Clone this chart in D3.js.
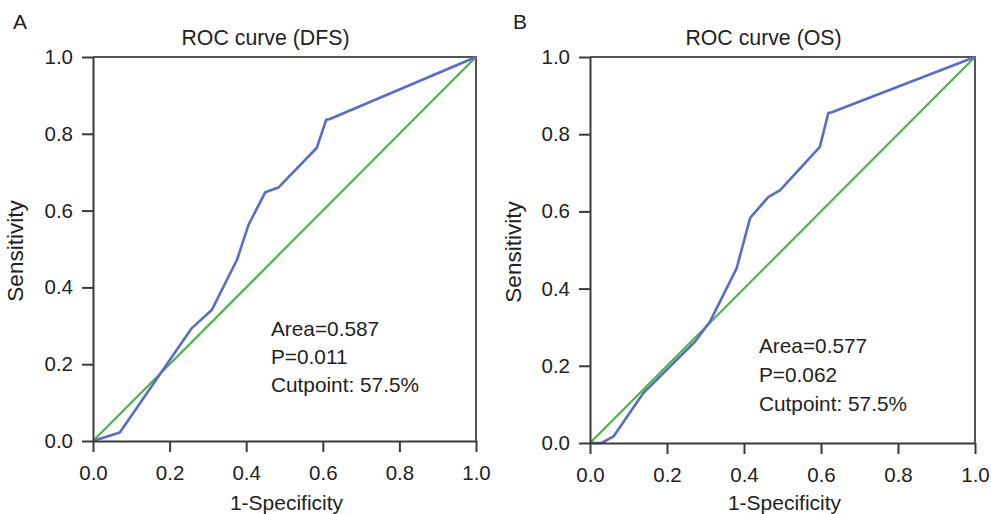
<!DOCTYPE html>
<html>
<head>
<meta charset="utf-8">
<script src="https://cdn.jsdelivr.net/npm/d3@7"></script>
<style>
  html, body { margin: 0; padding: 0; background: #fff; }
  svg text { font-family: "Liberation Sans", Arial, sans-serif; fill: #222; }
</style>
</head>
<body>
<svg id="chart" width="991" height="514"></svg>
<script>
// ---- data ----
const tickValues = [0, 0.2, 0.4, 0.6, 0.8, 1.0];

const dfsFpr = [0, 0.070, 0.258, 0.310, 0.376, 0.406, 0.450, 0.484, 0.584, 0.609, 0.617, 1.0];
const dfsTpr = [0, 0.022, 0.294, 0.341, 0.472, 0.563, 0.648, 0.660, 0.763, 0.837, 0.838, 1.0];

const osFpr = [0, 0.030, 0.061, 0.139, 0.273, 0.312, 0.381, 0.416, 0.463, 0.494, 0.597, 0.619, 0.628, 1.0];
const osTpr = [0, 0.000, 0.017, 0.130, 0.263, 0.315, 0.453, 0.583, 0.637, 0.655, 0.767, 0.855, 0.857, 1.0];

const refLine = [0, 1];

const panelLabels = ["A", "B"];
const titles = ["ROC curve (DFS)", "ROC curve (OS)"];
const annotations = [
  ["Area=0.587", "P=0.011", "Cutpoint: 57.5%"],
  ["Area=0.577", "P=0.062", "Cutpoint: 57.5%"]
];
const xTitle = "1-Specificity";
const yTitle = "Sensitivity";

// ---- layout ----
const svg = d3.select("#chart");
const panels = [
  { left: 93, right: 476, top: 57, bottom: 441, fpr: dfsFpr, tpr: dfsTpr,
    labelX: 13, ylabX: 17, annX: 271, annY: 336, annGap: 28 },
  { left: 590, right: 975, top: 57, bottom: 443, fpr: osFpr, tpr: osTpr,
    labelX: 513, ylabX: 515, annX: 759, annY: 353, annGap: 29 }
];

const blue = "#5a6cc6";
const green = "#4cb54a";
const axisColor = "#3a3a3a";

panels.forEach((p, i) => {
  const x = d3.scaleLinear().domain([0, 1]).range([p.left, p.right]);
  const y = d3.scaleLinear().domain([0, 1]).range([p.bottom, p.top]);
  const g = svg.append("g");

  // frame (top + right)
  g.append("path")
    .attr("d", `M${x(0)},${y(1)}H${x(1)}V${y(0)}`)
    .attr("fill", "none").attr("stroke", "#555").attr("stroke-width", 2);

  // reference diagonal
  g.append("path")
    .datum(refLine)
    .attr("d", d3.line().x(d => x(d)).y(d => y(d)))
    .attr("fill", "none").attr("stroke", green).attr("stroke-width", 2.2);

  // ROC curve
  const pts = p.fpr.map((v, k) => [v, p.tpr[k]]);
  g.append("path")
    .datum(pts)
    .attr("d", d3.line().x(d => x(d[0])).y(d => y(d[1])))
    .attr("fill", "none").attr("stroke", blue).attr("stroke-width", 2.6)
    .attr("stroke-linejoin", "round");

  // axes
  const fmt = d3.format(".1f");
  const xa = g.append("g").attr("transform", `translate(0,${p.bottom})`)
    .call(d3.axisBottom(x).tickValues(tickValues).tickFormat(fmt)
      .tickSize(11).tickSizeOuter(0).tickPadding(13));
  const ya = g.append("g").attr("transform", `translate(${p.left},0)`)
    .call(d3.axisLeft(y).tickValues(tickValues).tickFormat(fmt)
      .tickSize(11).tickSizeOuter(0).tickPadding(9));
  [xa, ya].forEach(a => {
    a.select(".domain").attr("stroke", axisColor).attr("stroke-width", 2);
    a.selectAll(".tick line").attr("stroke", axisColor).attr("stroke-width", 2);
    a.selectAll(".tick text").attr("font-size", 20.5).attr("fill", "#222")
      .style("font-family", '"Liberation Sans", Arial, sans-serif');
  });

  const cx = (p.left + p.right) / 2;
  const cy = (p.top + p.bottom) / 2;

  // title
  g.append("text").attr("x", cx - 19).attr("y", 45)
    .attr("text-anchor", "middle").attr("font-size", 21.3).text(titles[i]);

  // panel label
  g.append("text").attr("x", p.labelX).attr("y", 29)
    .attr("font-size", 21).text(panelLabels[i]);

  // x title
  g.append("text").attr("x", cx + 2).attr("y", 510)
    .attr("text-anchor", "middle").attr("font-size", 21).text(xTitle);

  // y title
  g.append("text")
    .attr("transform", `translate(${p.ylabX + 6},${cy + 2}) rotate(-90)`)
    .attr("text-anchor", "middle").attr("font-size", 22.5).text(yTitle);

  // annotation
  annotations[i].forEach((t, k) => {
    g.append("text").attr("x", p.annX).attr("y", p.annY + k * p.annGap)
      .attr("font-size", 20.8).text(t);
  });
});
</script>
</body>
</html>
